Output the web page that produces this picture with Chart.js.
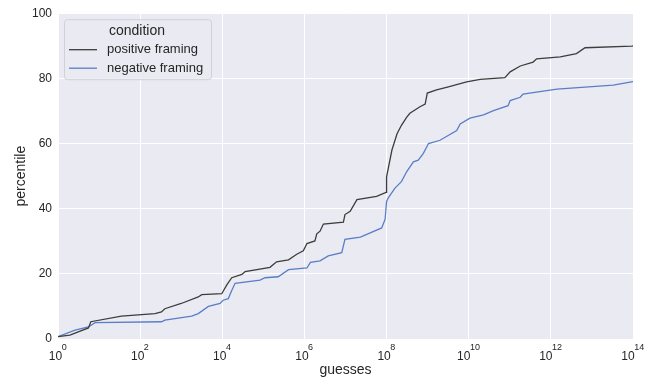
<!DOCTYPE html>
<html>
<head>
<meta charset="utf-8">
<script src="https://cdn.jsdelivr.net/npm/chart.js@4.4.1/dist/chart.umd.min.js"></script>
<style>
    html, body { margin: 0; padding: 0; background: #ffffff; }
    #wrap { width: 655px; height: 383px; }
</style>
</head>
<body>
<div id="wrap"><canvas id="cdfChart" width="655" height="383"></canvas></div>
<script>
// values
const seriesLabels = ['positive framing', 'negative framing'];
const seriesColors = ['#3d3d3d', '#5a7ec6'];
const legendTitle = 'condition';

const posGuesses = [1, 1.95, 5.5, 6.3, 35, 230, 330, 400, 1000, 2600, 3150, 9700,
    1.3e4, 1.7e4, 3e4, 3.6e4, 1.45e5, 2.1e5, 4.1e5, 6.5e5, 9.4e5, 1.15e6, 1.8e6, 2e6,
    2.4e6, 2.9e6, 8.9e6, 9.7e6, 1.3e7, 1.9e7, 5.7e7, 9.7e7, 1.0e8, 1.35e8, 1.8e8, 2.3e8,
    3.1e8, 3.7e8, 6.5e8, 8.7e8, 9.8e8, 1.65e9, 3.2e9, 8.9e9, 1.9e10, 7.6e10, 1.02e11,
    1.8e11, 3.7e11, 4.5e11, 1.7e12, 4.2e12, 6.8e12, 9.3e13, 1e14];
const posPercentile = [0.7, 1.2, 3.4, 5.3, 7.0, 7.8, 8.3, 9.3, 10.9, 12.9, 13.6, 13.9,
    16.7, 18.8, 19.8, 20.7, 22.0, 23.7, 24.3, 26.0, 27.1, 29.3, 30.1, 32.3,
    33.1, 35.3, 35.9, 38.2, 39.2, 42.8, 43.8, 45.0, 49.8, 58.0, 63.0, 65.6,
    68.1, 69.3, 71.3, 72.1, 75.5, 76.5, 77.4, 78.9, 79.7, 80.2, 82.0,
    83.8, 85.0, 86.0, 86.6, 87.6, 89.4, 89.9, 90.0];

const negGuesses = [1, 2.6, 5.5, 8, 330, 400, 1800, 2600, 4600, 8800, 1.05e4, 1.4e4,
    1.7e4, 2.05e4, 8.3e4, 1.1e5, 2.3e5, 4.1e5, 1.15e6, 1.4e6, 2.4e6, 3.8e6, 8.1e6,
    9.7e6, 2.3e7, 4e7, 7.6e7, 9.2e7, 1.0e8, 1.1e8, 1.6e8, 2.3e8, 3.1e8, 4.5e8, 5.9e8,
    7.8e8, 1.05e9, 2e9, 5.1e9, 6.2e9, 1.07e10, 2.3e10, 4e10, 9.1e10, 1.02e11, 1.8e11,
    2.1e11, 1.4e12, 3.3e13, 1e14];
const negPercentile = [0.7, 2.7, 3.7, 5.0, 5.3, 5.8, 7.0, 7.8, 10.0, 10.9, 11.9, 12.4,
    14.9, 17.1, 18.1, 18.8, 19.1, 21.3, 21.8, 23.5, 24.0, 25.5, 26.5,
    30.6, 31.3, 32.6, 34.1, 36.7, 42.2, 43.3, 46.3, 48.3, 51.4, 54.4, 54.9,
    56.9, 60.0, 61.0, 64.0, 66.0, 67.8, 68.8, 70.1, 71.6, 73.2, 74.2,
    75.2, 76.7, 77.9, 79.0];

const xTickExponents = [0, 2, 4, 6, 8, 10, 12, 14];
const yTicks = [0, 20, 40, 60, 80, 100];

const TEXT_COLOR = '#262626';
const FONT = '"Liberation Sans", Arial, sans-serif';

function toPoints(xs, ys) {
    return xs.map((x, i) => ({ x: x, y: ys[i] }));
}

// seaborn-like grey panel
const panelBackground = {
    id: 'panelBackground',
    beforeDraw(chart) {
        const { ctx, chartArea } = chart;
        ctx.save();
        ctx.fillStyle = '#eaeaf2';
        ctx.fillRect(chartArea.left, chartArea.top, chartArea.right - chartArea.left, chartArea.bottom - chartArea.top);
        ctx.restore();
    }
};

// 10^n labels with a raised exponent
const powerTickLabels = {
    id: 'powerTickLabels',
    afterDraw(chart) {
        const { ctx, chartArea } = chart;
        const xScale = chart.scales.x;
        ctx.save();
        ctx.fillStyle = TEXT_COLOR;
        ctx.textBaseline = 'alphabetic';
        ctx.textAlign = 'left';
        xTickExponents.forEach(e => {
            const px = xScale.getPixelForValue(Math.pow(10, e));
            const base = '10';
            const exp = String(e);
            ctx.font = '12px ' + FONT;
            const wb = ctx.measureText(base).width;
            ctx.font = '9px ' + FONT;
            const we = ctx.measureText(exp).width;
            const start = px - (wb + we) / 2;
            ctx.font = '12px ' + FONT;
            ctx.fillText(base, start, chartArea.bottom + 21);
            ctx.font = '9px ' + FONT;
            ctx.fillText(exp, start + wb - 0.5, chartArea.bottom + 11);
        });
        ctx.restore();
    }
};

// legend box in the upper left corner of the panel
const panelLegend = {
    id: 'panelLegend',
    afterDraw(chart) {
        const { ctx, chartArea } = chart;
        const x0 = chartArea.left + 6;
        const y0 = chartArea.top + 6;
        const w = 147;
        const h = 60;
        ctx.save();
        ctx.fillStyle = 'rgba(234,234,242,0.8)';
        ctx.strokeStyle = '#d0d0d6';
        ctx.lineWidth = 1;
        ctx.beginPath();
        ctx.roundRect(x0 + 0.5, y0 + 0.5, w, h, 3);
        ctx.fill();
        ctx.stroke();

        ctx.fillStyle = TEXT_COLOR;
        ctx.font = '14px ' + FONT;
        ctx.textAlign = 'center';
        ctx.textBaseline = 'middle';
        ctx.fillText(legendTitle, x0 + 73, y0 + 12);

        chart.data.datasets.forEach((ds, i) => {
            const ly = y0 + 30.5 + i * 18.5;
            ctx.strokeStyle = ds.borderColor;
            ctx.lineWidth = 1.3;
            ctx.beginPath();
            ctx.moveTo(x0 + 5, ly);
            ctx.lineTo(x0 + 33, ly);
            ctx.stroke();
            ctx.fillStyle = TEXT_COLOR;
            ctx.font = '13px ' + FONT;
            ctx.textAlign = 'left';
            ctx.fillText(ds.label, x0 + 43, ly);
        });
        ctx.restore();
    }
};

const ctx = document.getElementById('cdfChart').getContext('2d');
new Chart(ctx, {
    type: 'line',
    data: {
        datasets: [
            {
                label: seriesLabels[0],
                data: toPoints(posGuesses, posPercentile),
                borderColor: seriesColors[0],
                borderWidth: 1.3,
                pointRadius: 0,
                tension: 0,
                fill: false
            },
            {
                label: seriesLabels[1],
                data: toPoints(negGuesses, negPercentile),
                borderColor: seriesColors[1],
                borderWidth: 1.3,
                pointRadius: 0,
                tension: 0,
                fill: false
            }
        ]
    },
    options: {
        responsive: false,
        animation: false,
        devicePixelRatio: 1,
        layout: { padding: { top: 10, right: 22, left: 0, bottom: 0 } },
        plugins: {
            legend: { display: false },
            tooltip: { enabled: false }
        },
        scales: {
            x: {
                type: 'logarithmic',
                min: 1,
                max: 1e14,
                afterBuildTicks: (scale) => {
                    scale.ticks = xTickExponents.map(e => ({ value: Math.pow(10, e) }));
                },
                afterFit: (scale) => { scale.height = 44; },
                ticks: { display: false },
                grid: { color: '#ffffff', lineWidth: 1, drawTicks: false },
                border: { display: false },
                title: {
                    display: true,
                    text: 'guesses',
                    color: TEXT_COLOR,
                    font: { family: FONT, size: 14 },
                    padding: { top: 0, bottom: 4 }
                }
            },
            y: {
                type: 'linear',
                min: 0,
                max: 100,
                afterBuildTicks: (scale) => {
                    scale.ticks = yTicks.map(v => ({ value: v }));
                },
                afterFit: (scale) => { scale.width = 58; },
                ticks: {
                    color: TEXT_COLOR,
                    font: { family: FONT, size: 12 },
                    padding: 6
                },
                grid: { color: '#ffffff', lineWidth: 1, drawTicks: false },
                border: { display: false },
                title: {
                    display: true,
                    text: 'percentile',
                    color: TEXT_COLOR,
                    font: { family: FONT, size: 14 },
                    padding: { top: 13, bottom: 0 }
                }
            }
        }
    },
    plugins: [panelBackground, powerTickLabels, panelLegend]
});
</script>
</body>
</html>
